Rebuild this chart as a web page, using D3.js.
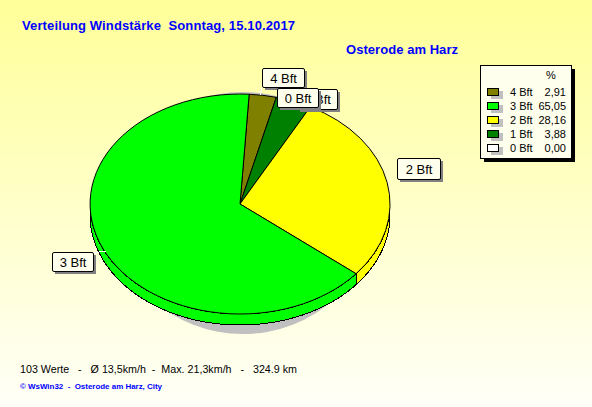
<!DOCTYPE html>
<html>
<head>
<meta charset="utf-8">
<script src="https://cdn.jsdelivr.net/npm/d3@7"></script>
<style>
  html, body { margin: 0; padding: 0; overflow: hidden; }
  text { font-family: "Liberation Sans", Arial, sans-serif; }
</style>
</head>
<body>
<div id="chart"></div>
<script>
// data
const categories = ["4 Bft", "3 Bft", "2 Bft", "1 Bft", "0 Bft"];
const percents = [2.91, 65.05, 28.16, 3.88, 0.0];
const percentLabels = ["2,91", "65,05", "28,16", "3,88", "0,00"];
const colors = ["#808000", "#00ff00", "#ffff00", "#008000", "#ffffff"];
const titleText = "Verteilung Windstärke  Sonntag, 15.10.2017";
const stationText = "Osterode am Harz";
const summaryText = "103 Werte   -   Ø 13,5km/h  -  Max. 21,3km/h   -   324.9 km";
const creditText = "© WsWin32  -  Osterode am Harz, City";

const width = 592, height = 407;
const cx = 240, cy = 204, rx = 150, ry = 110, depth = 11;
const startAngle = (3.5 * Math.PI) / 180;

const svg = d3.select("#chart").append("svg")
  .attr("width", width).attr("height", height)
  .style("display", "block");

//background gradient
const grad = svg.append("defs").append("linearGradient")
  .attr("id", "bg").attr("x1", 0).attr("y1", 0).attr("x2", 0).attr("y2", 1);
grad.append("stop").attr("offset", "0%").attr("stop-color", "#ffff99");
grad.append("stop").attr("offset", "100%").attr("stop-color", "#fffff8");
svg.append("rect").attr("width", width).attr("height", height).attr("fill", "url(#bg)");

//titles
svg.append("text").attr("x", 22).attr("y", 30).attr("fill", "#0000ff")
  .attr("textLength", 273).attr("lengthAdjust", "spacing")
  .style("font-weight", "bold").style("font-size", "13px").style("white-space", "pre")
  .text(titleText);
svg.append("text").attr("x", 346).attr("y", 54).attr("fill", "#0000ff")
  .attr("textLength", 112).attr("lengthAdjust", "spacing")
  .style("font-weight", "bold").style("font-size", "13px")
  .text(stationText);

//pie slices, clockwise; the legend order is olive, green, yellow, dark green
const pie = d3.pie().sort(null).value((d) => d.value)
  .startAngle(startAngle).endAngle(startAngle + 2 * Math.PI);
const rows = categories.map((c, i) => ({ name: c, value: percents[i], color: colors[i] }));
// drawing order around the circle differs from the legend order
const ring = [rows[0], rows[3], rows[2], rows[1], rows[4]];
const slices = pie(ring);

const arc = d3.arc().innerRadius(0).outerRadius(1);
const point = (a, dy = 0) => [cx + rx * Math.sin(a), cy - ry * Math.cos(a) + dy];

//shadow under the pie
svg.append("ellipse").attr("cx", 243).attr("cy", 213).attr("rx", 130).attr("ry", 121)
  .attr("fill", "#c0c0c0");

//side wall of the front half
slices.forEach((s) => {
  const a0 = Math.max(s.startAngle, Math.PI / 2);
  const a1 = Math.min(s.endAngle, (3 * Math.PI) / 2);
  if (a1 <= a0) return;
  const angles = d3.range(0, 61).map((k) => a0 + ((a1 - a0) * k) / 60);
  const pts = angles.map((a) => point(a)).concat(angles.slice().reverse().map((a) => point(a, depth)));
  svg.append("path")
    .attr("d", d3.line()(pts) + "Z")
    .attr("fill", s.data.color)
    .attr("stroke", "#000")
    .attr("stroke-width", 1)
    .attr("shape-rendering", "crispEdges");
});

//top face
svg.append("g").attr("transform", `translate(${cx},${cy}) scale(${rx},${ry})`)
  .selectAll("path").data(slices.filter((s) => s.data.value > 0)).enter()
  .append("path")
  .attr("d", arc)
  .attr("fill", (d) => d.data.color)
  .attr("stroke", "#000")
  .attr("stroke-width", 1)
  .attr("vector-effect", "non-scaling-stroke")
  .attr("shape-rendering", "crispEdges");

//white leader stubs from the callouts to the pie edge
const leaders = [
  [[93, 253], [106, 251]],
  [[262, 88], [260, 95]],
];
leaders.forEach((l) => {
  svg.append("path").attr("d", d3.line()(l)).attr("stroke", "#fff").attr("fill", "none")
    .attr("shape-rendering", "crispEdges");
});

//value callouts
const callouts = [
  { name: "4 Bft", x: 262, y: 68, w: 42, h: 19 },
  { name: "1 Bft", x: 297, y: 89, w: 40, h: 20 },
  { name: "0 Bft", x: 277, y: 88, w: 41, h: 19 },
  { name: "2 Bft", x: 397, y: 158, w: 43, h: 21 },
  { name: "3 Bft", x: 52, y: 252, w: 41, h: 19 },
];
callouts.forEach((c) => {
  svg.append("rect").attr("x", c.x + 3).attr("y", c.y + 3).attr("width", c.w).attr("height", c.h)
    .attr("fill", "#808080");
  svg.append("rect").attr("x", c.x + 0.5).attr("y", c.y + 0.5).attr("width", c.w).attr("height", c.h)
    .attr("rx", 1.5).attr("fill", "#ffffee").attr("stroke", "#000");
  svg.append("text").attr("x", c.x + c.w / 2 + 0.5).attr("y", c.y + c.h / 2 + 5)
    .attr("text-anchor", "middle").attr("fill", "#000")
    .style("font-size", "13px").text(c.name);
});

//legend
const lx = 480, ly = 65;
svg.append("rect").attr("x", lx + 4).attr("y", ly + 4).attr("width", 91).attr("height", 93).attr("fill", "#000");
svg.append("rect").attr("x", lx + 0.5).attr("y", ly + 0.5).attr("width", 91).attr("height", 93)
  .attr("fill", "#ffffee").attr("stroke", "#000");
svg.append("text").attr("x", 551).attr("y", 79).attr("text-anchor", "middle")
  .style("font-size", "11px").text("%");
const rowY = d3.scaleBand().domain(categories).range([85, 155]);
const legend = svg.selectAll(".row").data(rows).enter().append("g").attr("class", "row")
  .attr("transform", (d) => `translate(0,${rowY(d.name)})`);
legend.append("rect").attr("x", 491).attr("y", 6).attr("width", 12).attr("height", 8).attr("fill", "#c0c0c0");
legend.append("rect").attr("x", 487.5).attr("y", 3.5).attr("width", 11).attr("height", 7)
  .attr("fill", (d) => d.color).attr("stroke", "#000");
legend.append("text").attr("x", 510).attr("y", 10.5).style("font-size", "11px").text((d) => d.name);
legend.append("text").attr("x", 566).attr("y", 10.5).attr("text-anchor", "end").style("font-size", "11px")
  .text((d, i) => percentLabels[i]);

//footer
svg.append("text").attr("x", 20).attr("y", 373).attr("fill", "#000")
  .attr("textLength", 277).attr("lengthAdjust", "spacingAndGlyphs")
  .style("font-size", "11.5px").style("white-space", "pre").text(summaryText);
svg.append("text").attr("x", 20).attr("y", 389).attr("fill", "#0000ff")
  .attr("textLength", 142).attr("lengthAdjust", "spacingAndGlyphs")
  .style("font-size", "8px").style("font-weight", "bold").style("white-space", "pre").text(creditText);
</script>
</body>
</html>
